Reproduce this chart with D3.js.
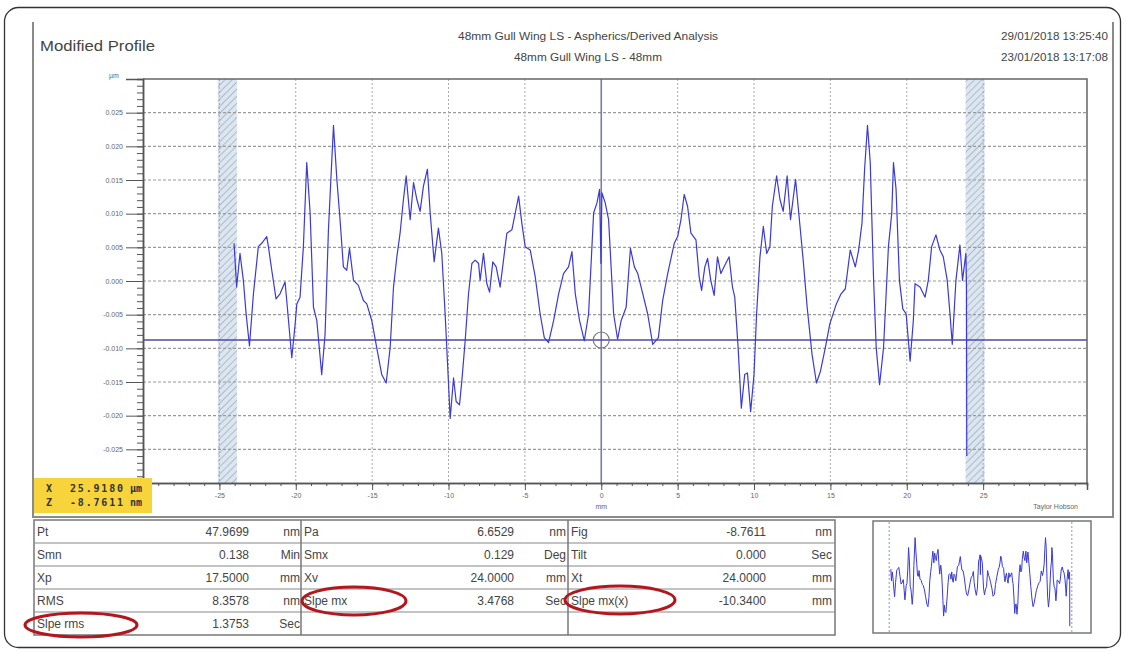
<!DOCTYPE html>
<html>
<head>
<meta charset="utf-8">
<script src="https://cdn.jsdelivr.net/npm/d3@7"></script>
<style>
  body { margin: 0; background: #fff; }
  text { font-family: "Liberation Sans", Arial, sans-serif; }
</style>
</head>
<body>
<div id="my_dataviz"></div>
<script>
// profile: position (mm) and height (nm)
const profileX = [-24.04, -23.87, -23.65, -23.43, -23.25, -23.03, -22.77, -22.45, -22.23, -21.9, -21.79, -21.57, -21.29, -21.03, -20.7, -20.59, -20.26, -20.04, -19.93, -19.72, -19.5, -19.28, -19.06, -18.84, -18.62, -18.3, -18.08, -17.86, -17.53, -17.31, -17.1, -16.88, -16.66, -16.48, -16.22, -15.9, -15.57, -15.35, -15.02, -14.7, -14.37, -14.08, -13.82, -13.6, -13.38, -13.17, -12.95, -12.77, -12.51, -12.29, -12.07, -11.86, -11.64, -11.38, -11.2, -10.94, -10.66, -10.44, -10.22, -10.07, -9.89, -9.67, -9.5, -9.28, -9.13, -8.91, -8.69, -8.47, -8.25, -8.03, -7.93, -7.71, -7.49, -7.31, -7.1, -6.88, -6.62, -6.4, -6.18, -5.85, -5.63, -5.41, -5.2, -4.98, -4.65, -4.32, -4.0, -3.73, -3.45, -3.12, -2.79, -2.47, -2.14, -1.92, -1.7, -1.42, -1.11, -0.83, -0.5, -0.28, -0.11, -0.02, 0.04, 0.26, 0.48, 0.81, 1.07, 1.3, 1.63, 1.91, 2.17, 2.39, 2.72, 3.04, 3.37, 3.74, 4.02, 4.35, 4.78, 5.0, 5.22, 5.43, 5.65, 5.87, 6.2, 6.41, 6.57, 6.78, 6.96, 7.17, 7.39, 7.61, 7.83, 8.09, 8.37, 8.59, 8.74, 8.96, 9.17, 9.39, 9.57, 9.78, 10.0, 10.17, 10.39, 10.61, 10.83, 11.04, 11.2, 11.48, 11.7, 11.91, 12.17, 12.39, 12.72, 12.93, 13.22, 13.48, 13.8, 14.09, 14.35, 14.67, 14.96, 15.39, 15.7, 15.98, 16.3, 16.63, 16.85, 17.07, 17.24, 17.43, 17.61, 17.83, 18.0, 18.22, 18.48, 18.8, 19.02, 19.13, 19.3, 19.52, 19.74, 19.96, 20.22, 20.43, 20.54, 20.87, 21.2, 21.41, 21.63, 21.91, 22.17, 22.39, 22.65, 22.83, 22.98, 23.22, 23.48, 23.65, 23.87, 23.91, 23.93];
const profileZ = [5.6, -0.9, 4.1, 0.1, -4.9, -9.65, -1.9, 5.1, 5.6, 6.6, 5.1, 1.6, -2.65, -1.9, -0.15, -2.9, -11.4, -6.4, -3.4, -2.4, 5.1, 17.6, 10.1, -3.9, -5.9, -13.9, -7.9, 7.6, 23.1, 15.1, 9.1, 2.1, 1.6, 4.85, 0.1, -0.65, -2.9, -3.4, -5.9, -9.9, -13.9, -15.15, -9.9, -0.9, 3.6, 7.1, 12.1, 15.6, 9.1, 14.6, 12.1, 10.35, 14.1, 16.6, 10.1, 2.85, 7.85, 4.1, -4.9, -11.9, -20.4, -14.4, -17.9, -18.4, -14.9, -8.9, -1.9, 2.6, 3.1, 2.6, 0.1, 4.1, -0.4, -1.65, 2.85, 2.1, -0.9, 3.1, 7.1, 7.6, 10.1, 12.6, 8.6, 5.1, 4.6, 0.6, -4.9, -8.4, -9.15, -5.9, -1.9, 1.1, 2.1, 4.35, -1.9, -5.9, -8.9, -4.9, 10.1, 11.6, 13.6, 2.6, 13.1, 11.6, 9.1, -4.9, -8.65, -5.9, -3.9, 4.85, 2.1, 1.1, -1.9, -4.9, -9.4, -8.4, -2.9, 1.1, 5.6, 6.6, 9.1, 12.85, 11.1, 7.1, 6.1, 0.6, -1.4, 2.1, 3.35, 0.1, -2.15, 3.6, 1.1, 2.35, 3.6, -0.9, -2.4, -9.9, -18.9, -13.9, -13.65, -19.4, -13.9, -4.9, 3.6, 8.1, 4.1, 5.1, 11.1, 15.6, 12.1, 10.35, 15.6, 9.1, 15.1, 10.1, 3.1, -3.9, -10.9, -15.15, -13.4, -9.9, -6.4, -3.4, -1.9, -1.15, 4.6, 2.1, 4.6, 8.6, 16.6, 23.1, 17.6, 0.1, -9.9, -15.4, -9.9, 5.1, 10.1, 17.6, 13.6, 0.1, -4.15, -4.9, -11.9, -5.9, -0.4, -0.9, -2.4, 0.1, 5.1, 6.85, 4.6, 3.6, 0.1, -4.9, -9.4, 0.1, 5.35, 0.1, 4.1, -0.65, -26];

// axis ticks
const xMajor = [-25, -20, -15, -10, -5, 0, 5, 10, 15, 20, 25];
const xMinor = d3.range(-29, 32, 1);
const yMajor = [-25, -20, -15, -10, -5, 0, 5, 10, 15, 20, 25];
const yMinor = d3.range(-30, 31, 1);

// masked ends of the profile (mm)
const bands = [[-25.1, -23.85], [23.85, 25.1]];
const cursorX = 0;          // mm
const cursorZ = -8.7611;    // nm

// header texts
const chartTitle = "Modified Profile";
const headerLines = ["48mm Gull Wing LS - Aspherics/Derived Analysis", "48mm Gull Wing LS - 48mm"];
const dateLines = ["29/01/2018 13:25:40", "23/01/2018 13:17:08"];
const readout = [["X", "25.9180", "\u00b5m"], ["Z", "-8.7611", "nm"]];

// parameter table, three column groups
const statsCol1 = [["Pt", "47.9699", "nm"], ["Smn", "0.138", "Min"], ["Xp", "17.5000", "mm"], ["RMS", "8.3578", "nm"], ["Slpe rms", "1.3753", "Sec"]];
const statsCol2 = [["Pa", "6.6529", "nm"], ["Smx", "0.129", "Deg"], ["Xv", "24.0000", "mm"], ["Slpe mx", "3.4768", "Sec"], ["", "", ""]];
const statsCol3 = [["Fig", "-8.7611", "nm"], ["Tilt", "0.000", "Sec"], ["Xt", "24.0000", "mm"], ["Slpe mx(x)", "-10.3400", "mm"], ["", "", ""]];

const W = 1129, H = 653;
const svg = d3.select("#my_dataviz").append("svg")
  .attr("width", W).attr("height", H);

// hatch pattern for masked bands
const defs = svg.append("defs");
const pat = defs.append("pattern")
  .attr("id", "hatch").attr("width", 5).attr("height", 5)
  .attr("patternUnits", "userSpaceOnUse")
  .attr("patternTransform", "rotate(45)");
pat.append("rect").attr("width", 5).attr("height", 5).attr("fill", "#dde6ef");
pat.append("line").attr("x1", 0).attr("y1", 0).attr("x2", 0).attr("y2", 5)
  .attr("stroke", "#a9bccf").attr("stroke-width", 2);

// outer card
svg.append("rect")
  .attr("x", 4.5).attr("y", 7.5).attr("width", 1116).attr("height", 640)
  .attr("rx", 14).attr("fill", "none").attr("stroke", "#333").attr("stroke-width", 1.3);

// report panel frame (left, right, bottom)
svg.append("path")
  .attr("d", "M33,22V517H1113V22")
  .attr("fill", "none").attr("stroke", "#8a8a8a").attr("stroke-width", 2);

svg.append("text").attr("x", 40).attr("y", 51)
  .attr("font-size", 15).attr("fill", "#444")
  .attr("textLength", 115).attr("lengthAdjust", "spacingAndGlyphs")
  .text(chartTitle);

const hdrWidths = [260, 148];
svg.selectAll(".hdr").data(headerLines).join("text")
  .attr("x", 588).attr("y", (d, i) => 40 + i * 21)
  .attr("text-anchor", "middle").attr("font-size", 10).attr("fill", "#444")
  .attr("textLength", (d, i) => hdrWidths[i]).attr("lengthAdjust", "spacingAndGlyphs")
  .text(d => d);

svg.selectAll(".dt").data(dateLines).join("text")
  .attr("x", 1108).attr("y", (d, i) => 40 + i * 21)
  .attr("text-anchor", "end").attr("font-size", 10.5).attr("fill", "#444")
  .attr("textLength", 107).attr("lengthAdjust", "spacingAndGlyphs")
  .text(d => d);

// scales
const x = d3.scaleLinear().domain([-30, 31.8]).range([143, 1087]);
const y = d3.scaleLinear().domain([-30, 30]).range([483, 79]);

// masked bands
svg.selectAll(".band").data(bands).join("rect")
  .attr("x", d => x(d[0])).attr("y", y(30))
  .attr("width", d => x(d[1]) - x(d[0])).attr("height", y(-30) - y(30))
  .attr("fill", "url(#hatch)");

// grid
svg.append("g").selectAll("line").data(yMajor).join("line")
  .attr("x1", x(-30)).attr("x2", x(31.8))
  .attr("y1", d => y(d)).attr("y2", d => y(d))
  .attr("stroke", "#9a9a9a").attr("stroke-width", 1.2).attr("stroke-dasharray", "3,2");
svg.append("g").selectAll("line").data(xMajor.filter(d => d !== 0)).join("line")
  .attr("y1", y(30)).attr("y2", y(-30))
  .attr("x1", d => x(d)).attr("x2", d => x(d))
  .attr("stroke", "#a8a8b0").attr("stroke-width", 1).attr("stroke-dasharray", "2,2");

// zero line and cursor
svg.append("line")
  .attr("x1", x(cursorX)).attr("x2", x(cursorX)).attr("y1", y(30)).attr("y2", y(-30))
  .attr("stroke", "#7c7ca8").attr("stroke-width", 1.6);
svg.append("line")
  .attr("x1", x(-30)).attr("x2", x(31.8)).attr("y1", y(cursorZ)).attr("y2", y(cursorZ))
  .attr("stroke", "#4b4b9e").attr("stroke-width", 1.4);

// profile
const line = d3.line().x(d => x(d[0])).y(d => y(d[1]));
svg.append("path")
  .datum(d3.zip(profileX, profileZ))
  .attr("d", line)
  .attr("fill", "none").attr("stroke", "#3a3ad6").attr("stroke-width", 1.2)
  .attr("stroke-linejoin", "round");

svg.append("circle")
  .attr("cx", x(cursorX)).attr("cy", y(cursorZ)).attr("r", 8)
  .attr("fill", "none").attr("stroke", "#777").attr("stroke-width", 1.2);

// plot frame top + right
svg.append("path")
  .attr("d", `M${x(-30)},${y(30)}H${x(31.8)}V${y(-30)}`)
  .attr("fill", "none").attr("stroke", "#666").attr("stroke-width", 1.5);

// y axis
const yAxis = svg.append("g").attr("transform", `translate(${x(-30)},0)`)
  .call(d3.axisLeft(y).tickValues(yMajor).tickSize(17).tickFormat(d => (d / 1000).toFixed(3)));
svg.append("g").attr("transform", `translate(${x(-30)},0)`)
  .call(d3.axisLeft(y).tickValues(yMinor).tickSize(6).tickFormat(""));

// x axis
const xAxis = svg.append("g").attr("transform", `translate(0,${y(-30)})`)
  .call(d3.axisBottom(x).tickValues(xMajor).tickSize(7).tickFormat(d => String(d)));
svg.append("g").attr("transform", `translate(0,${y(-30)})`)
  .call(d3.axisBottom(x).tickValues(xMinor).tickSize(3).tickFormat(""));

svg.selectAll(".domain").attr("stroke", "#555").attr("stroke-width", 1.5);
svg.selectAll(".tick line").attr("stroke", "#555");
svg.selectAll(".tick text").attr("fill", "#666").attr("font-size", 7)
  .attr("font-family", "Liberation Sans, Arial, sans-serif");
yAxis.selectAll(".tick text").attr("x", -20);

svg.append("text").attr("x", 114).attr("y", 78).attr("text-anchor", "middle")
  .attr("font-size", 7).attr("fill", "#666").text("\u00b5m");
svg.append("text").attr("x", x(0)).attr("y", 509).attr("text-anchor", "middle")
  .attr("font-size", 7).attr("fill", "#666").text("mm");
svg.append("text").attr("x", 1078).attr("y", 509).attr("text-anchor", "end")
  .attr("font-size", 7).attr("fill", "#666").text("Taylor Hobson");

// cursor readout box
svg.append("rect").attr("x", 34).attr("y", 478).attr("width", 118).attr("height", 35)
  .attr("fill", "#f7d43c");
const ro = svg.selectAll(".ro").data(readout).join("g")
  .attr("transform", (d, i) => `translate(0,${492 + i * 14})`)
  .attr("font-size", 10).attr("font-weight", "bold").attr("fill", "#333");
ro.append("text").attr("x", 46).text(d => d[0]).style("font-family", "DejaVu Sans Mono, monospace");
ro.append("text").attr("x", 123).attr("text-anchor", "end")
  .attr("textLength", 53).attr("lengthAdjust", "spacing")
  .text(d => d[1]).style("font-family", "DejaVu Sans Mono, monospace");
ro.append("text").attr("x", 130).text(d => d[2]).style("font-family", "DejaVu Sans Mono, monospace");

// parameter table
const tTop = 520, rowH = 23;
const cols = [
  {data: statsCol1, x0: 34, valEnd: 249, unitEnd: 300},
  {data: statsCol2, x0: 301, valEnd: 514, unitEnd: 566},
  {data: statsCol3, x0: 568, valEnd: 766, unitEnd: 832}
];
const table = svg.append("g");
table.append("rect").attr("x", 34).attr("y", tTop).attr("width", 801).attr("height", rowH * 5)
  .attr("fill", "none").attr("stroke", "#777").attr("stroke-width", 1.5);
table.selectAll(".rl").data(d3.range(1, 5)).join("line")
  .attr("x1", 34).attr("x2", 835)
  .attr("y1", d => tTop + d * rowH).attr("y2", d => tTop + d * rowH)
  .attr("stroke", "#888").attr("stroke-width", 1.2);
table.selectAll(".cl").data([301, 568]).join("line")
  .attr("x1", d => d).attr("x2", d => d).attr("y1", tTop).attr("y2", tTop + rowH * 5)
  .attr("stroke", "#777").attr("stroke-width", 1.5);
cols.forEach(c => {
  const g = table.append("g").selectAll("g").data(c.data).join("g")
    .attr("transform", (d, i) => `translate(0,${tTop + i * rowH + 16})`)
    .attr("font-size", 12).attr("fill", "#444");
  g.append("text").attr("x", c.x0 + 3).text(d => d[0]);
  g.append("text").attr("x", c.valEnd).attr("text-anchor", "end").text(d => d[1]);
  g.append("text").attr("x", c.unitEnd).attr("text-anchor", "end").text(d => d[2]);
});

// red highlight ellipses
const marks = [[81, 625, 56, 12], [354, 601, 52, 14], [620, 600, 55, 14]];
svg.selectAll(".mk").data(marks).join("ellipse")
  .attr("cx", d => d[0]).attr("cy", d => d[1]).attr("rx", d => d[2]).attr("ry", d => d[3])
  .attr("fill", "none").attr("stroke", "#b3161c").attr("stroke-width", 3);

// thumbnail of the full profile
const tx = d3.scaleLinear().domain([-25.6, 25.6]).range([885, 1076]);
const ty = d3.scaleLinear().domain([-27, 24]).range([628, 536]);
svg.append("rect").attr("x", 873).attr("y", 521).attr("width", 218).attr("height", 112)
  .attr("fill", "#fff").attr("stroke", "#777").attr("stroke-width", 1.5);
svg.selectAll(".tb").data([bands[0][1] - 0.6, bands[1][0] + 0.6]).join("line")
  .attr("x1", d => tx(d)).attr("x2", d => tx(d)).attr("y1", 522).attr("y2", 632)
  .attr("stroke", "#a9bcd6").attr("stroke-width", 1.5).attr("stroke-dasharray", "2,2");
svg.append("path")
  .datum(d3.zip(profileX, profileZ))
  .attr("d", d3.line().x(d => tx(d[0])).y(d => ty(d[1])))
  .attr("fill", "none").attr("stroke", "#3a3ad6").attr("stroke-width", 1);
</script>
</body>
</html>
